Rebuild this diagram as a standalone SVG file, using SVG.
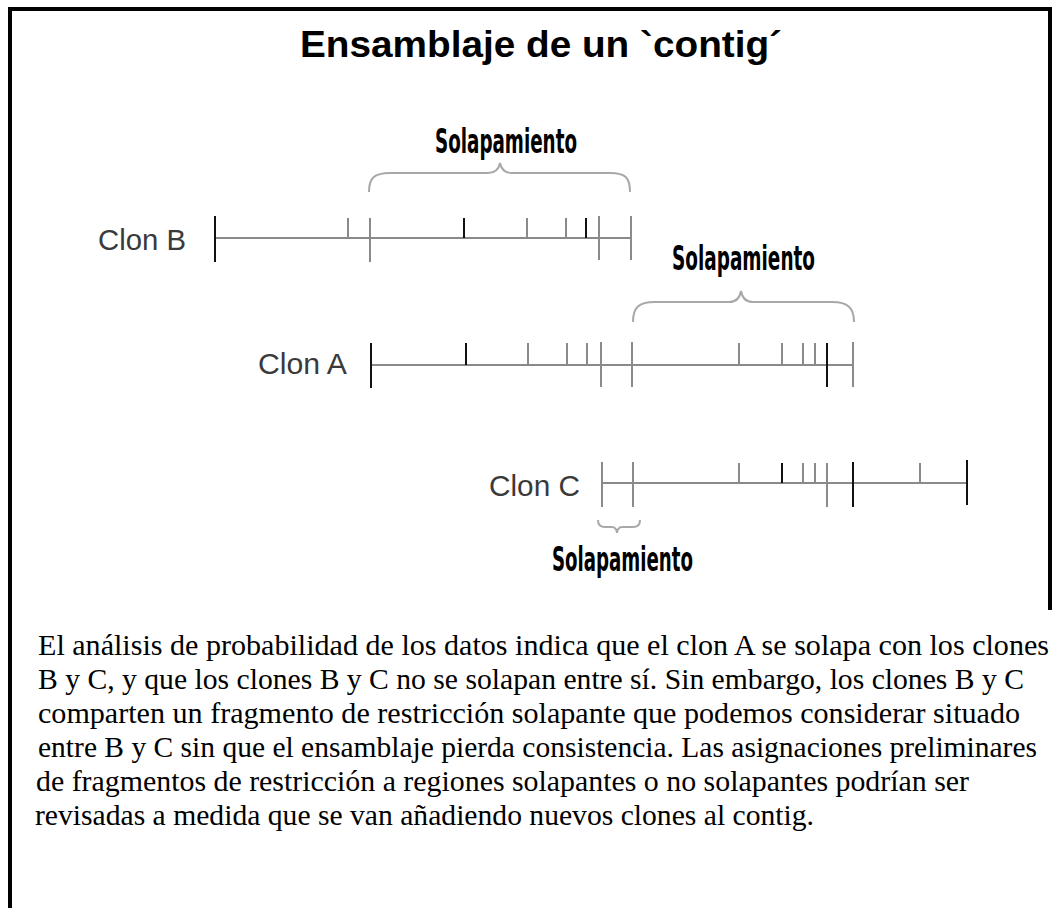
<svg xmlns="http://www.w3.org/2000/svg" width="1057" height="908" viewBox="0 0 1057 908">
<style>
.frame{fill:none;stroke:#000;stroke-width:4}
.title{font-family:"Liberation Sans",Arial,sans-serif;font-weight:bold;font-size:37px;fill:#000}
.clon{font-family:"Liberation Sans",Arial,sans-serif;font-size:29px;fill:#3a3a3a}
.ov{font-family:"DejaVu Sans Condensed","DejaVu Sans",sans-serif;font-weight:bold;font-size:34px;fill:#000}
.par{font-family:"Liberation Serif","Times New Roman",serif;font-size:29.5px;fill:#000}
.bar{stroke:#8a8a8a;stroke-width:2;fill:none}
.tk{stroke:#8a8a8a;stroke-width:2;fill:none}
.tkd{stroke:#111;stroke-width:2;fill:none}
.brace{stroke:#a8a8a8;stroke-width:2;fill:none}
</style>
<rect width="1057" height="908" fill="#fff"/>
<path class="frame" d="M10,908 V9 H1050 V610"/>
<g id="title">
<text class="title" x="300" y="57" textLength="482" lengthAdjust="spacingAndGlyphs">Ensamblaje de un `contig´</text>
</g>
<g id="clone-b">
<text class="clon" x="98" y="250" textLength="88" lengthAdjust="spacingAndGlyphs">Clon B</text>
<path class="bar" d="M215,238 H631"/>
<path class="tkd" d="M215,216 V262 M464,218 V238 M586,218 V238"/>
<path class="tk" d="M348,218 V238 M370,218 V262 M527,218 V238 M566,218 V238 M599,216 V260 M631,216 V260"/>
</g>
<g id="clone-a">
<text class="clon" x="258" y="374" textLength="89" lengthAdjust="spacingAndGlyphs">Clon A</text>
<path class="bar" d="M371,365 H853"/>
<path class="tkd" d="M371,343 V388 M466,343 V365 M827,343 V387"/>
<path class="tk" d="M528,343 V365 M567,343 V365 M587,343 V365 M601,342 V387 M632,342 V387 M739,343 V365 M782,343 V365 M803,343 V365 M815,343 V365 M853,342 V387"/>
</g>
<g id="clone-c">
<text class="clon" x="489" y="496" textLength="91" lengthAdjust="spacingAndGlyphs">Clon C</text>
<path class="bar" d="M602,483 H967"/>
<path class="tkd" d="M782,463 V483 M853,462 V507 M967,460 V505"/>
<path class="tk" d="M602,462 V507 M633,462 V507 M739,463 V483 M803,463 V483 M815,463 V483 M827,463 V507 M920,463 V483"/>
</g>
<g id="overlap-labels">
<text class="ov" x="435" y="153" textLength="142" lengthAdjust="spacingAndGlyphs">Solapamiento</text>
<text class="ov" x="672" y="270" textLength="143" lengthAdjust="spacingAndGlyphs">Solapamiento</text>
<text class="ov" x="552" y="571" textLength="141" lengthAdjust="spacingAndGlyphs">Solapamiento</text>
</g>
<g id="connectors">
<path class="brace" d="M369,192 C369,178 374,173 390,173 L488,173 C496,173 499,168 500,163 C501,168 504,173 512,173 L610,173 C626,173 630,178 630,192"/>
<path class="brace" d="M633,322 C633,308 638,302 655,302 L729,302 C737,302 740,297 741,291 C742,297 745,302 753,302 L832,302 C848,302 854,308 854,322"/>
<path class="brace" d="M598,520 C598,525 600,527 605,527 L612,527 C615,527 617,530 617,533 C617,530 619,527 622,527 L633,527 C638,527 640,525 640,520"/>
</g>
<g id="paragraph">
<text class="par" x="38" y="655" textLength="1011" lengthAdjust="spacingAndGlyphs">El análisis de probabilidad de los datos  indica que el clon A  se solapa con los clones</text>
<text class="par" x="38" y="689" textLength="986" lengthAdjust="spacingAndGlyphs">B y C, y que los clones B y C no se solapan entre sí.  Sin embargo, los clones B y C</text>
<text class="par" x="38" y="723" textLength="982" lengthAdjust="spacingAndGlyphs">comparten un fragmento de restricción solapante  que podemos considerar situado</text>
<text class="par" x="38" y="757" textLength="999" lengthAdjust="spacingAndGlyphs">entre B y C sin que el ensamblaje pierda consistencia. Las asignaciones preliminares</text>
<text class="par" x="36" y="791" textLength="933" lengthAdjust="spacingAndGlyphs">de fragmentos de restricción a regiones solapantes o no solapantes podrían ser</text>
<text class="par" x="35" y="825" textLength="779" lengthAdjust="spacingAndGlyphs">revisadas a medida que se van añadiendo nuevos clones al contig.</text>
</g>
</svg>
